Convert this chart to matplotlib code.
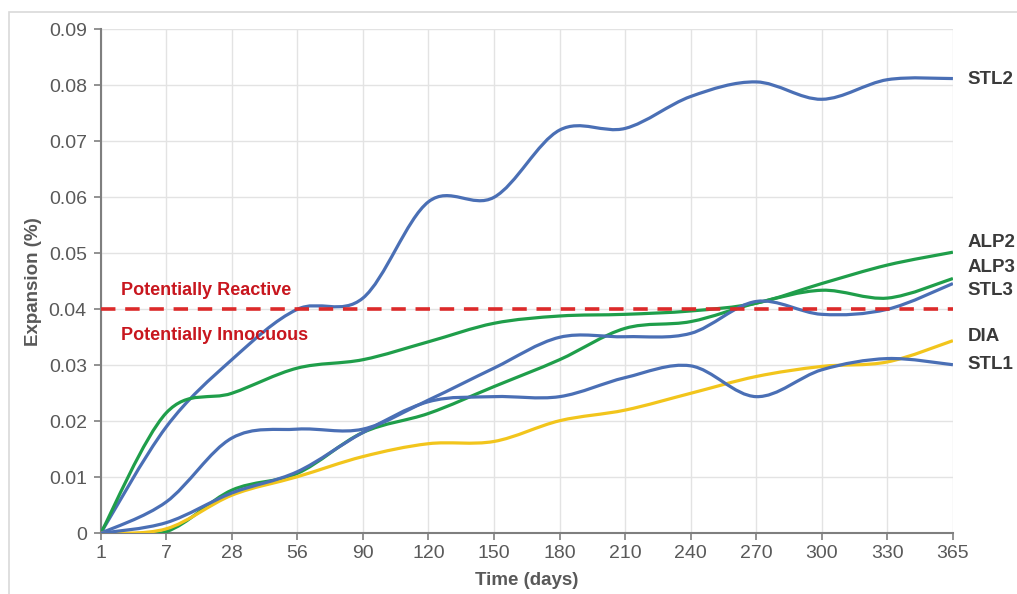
import matplotlib.pyplot as plt
from matplotlib.path import Path
from matplotlib.patches import PathPatch, Rectangle

plt.rcParams['font.family'] = ['Liberation Sans', 'DejaVu Sans']

# Data
days = ['1', '7', '28', '56', '90', '120', '150', '180', '210', '240', '270', '300', '330', '365']

stl2 = [0, 0.019, 0.031, 0.040, 0.042, 0.0592, 0.0600, 0.0720, 0.0723, 0.0780, 0.0806, 0.0775, 0.0810, 0.0812]
alp2 = [0, 0.0215, 0.025, 0.0295, 0.031, 0.0342, 0.0375, 0.0388, 0.0391, 0.0397, 0.0411, 0.0446, 0.0479, 0.0502]
alp3 = [0, 0.0003, 0.0077, 0.0107, 0.018, 0.0214, 0.0262, 0.031, 0.0366, 0.0378, 0.0411, 0.0434, 0.0420, 0.0455]
stl3 = [0, 0.0056, 0.017, 0.0186, 0.0186, 0.0238, 0.0295, 0.0350, 0.0351, 0.0357, 0.0414, 0.0391, 0.0400, 0.0446]
dia = [0, 0.0008, 0.0068, 0.0101, 0.0137, 0.0160, 0.0164, 0.0201, 0.0220, 0.0250, 0.0280, 0.0298, 0.0306, 0.0344]
stl1 = [0, 0.0019, 0.0072, 0.0110, 0.0180, 0.0235, 0.0244, 0.0244, 0.0278, 0.0299, 0.0244, 0.0292, 0.0312, 0.0301]

series = [
    ('STL2', stl2, '#4a6fb5'),
    ('ALP2', alp2, '#1f9e4a'),
    ('ALP3', alp3, '#1f9e4a'),
    ('STL3', stl3, '#4a6fb5'),
    ('DIA', dia, '#f2c51c'),
    ('STL1', stl1, '#4a6fb5'),
]

# where the end labels sit (y in data units)
label_y = {'STL2': 0.0810, 'ALP2': 0.0519, 'ALP3': 0.0474,
           'STL3': 0.0434, 'DIA': 0.0351, 'STL1': 0.0301}

limit = 0.04


def smooth_path(xs, ys):
    # Excel-like smoothed line: Catmull-Rom segments drawn as cubic Beziers
    pts = list(zip(xs, ys))
    n = len(pts)
    verts = [pts[0]]
    codes = [Path.MOVETO]
    for i in range(n - 1):
        p0 = pts[i - 1] if i > 0 else pts[i]
        p1 = pts[i]
        p2 = pts[i + 1]
        p3 = pts[i + 2] if i + 2 < n else pts[i + 1]
        c1 = (p1[0] + (p2[0] - p0[0]) / 6, p1[1] + (p2[1] - p0[1]) / 6)
        c2 = (p2[0] - (p3[0] - p1[0]) / 6, p2[1] - (p3[1] - p1[1]) / 6)
        verts += [c1, c2, p2]
        codes += [Path.CURVE4] * 3
    return Path(verts, codes)


fig = plt.figure(figsize=(10.17, 5.94), dpi=100)
ax = fig.add_axes([0.099, 0.1022, 0.838, 0.8485])

# outer frame
fig.patches.append(Rectangle((9 / 1017, -0.1), 1.2, 1 - 12 / 594 + 0.1,
                             transform=fig.transFigure, fill=False,
                             edgecolor='#d9d9d9', linewidth=1.2))

x = list(range(len(days)))

for name, vals, color in series:
    ax.add_patch(PathPatch(smooth_path(x, vals), fill=False,
                           edgecolor=color, linewidth=2.3, zorder=3))
    ax.annotate(name, xy=(len(days) - 1, label_y[name]), xytext=(15, 0),
                textcoords='offset pixels', va='center', ha='left',
                fontsize=13.5, fontweight='bold', color='#3a3a3a',
                annotation_clip=False)

ax.axhline(limit, color='#dc2a2a', linestyle=(0, (4, 2.7)), linewidth=2.6, zorder=4)
ax.text(0.31, 0.0434, 'Potentially Reactive', color='#c8161e',
        fontsize=13, fontweight='bold', va='center')
ax.text(0.31, 0.0354, 'Potentially Innocuous', color='#c8161e',
        fontsize=13, fontweight='bold', va='center')

ax.set_xlim(0, len(days) - 1)
ax.set_ylim(0, 0.09)
ax.set_xticks(x)
ax.set_xticklabels(days)
ax.set_yticks([i / 100 for i in range(10)])
ax.set_yticklabels(['0'] + ['0.0%d' % i for i in range(1, 10)])

ax.grid(True, color='#e3e3e3', linewidth=1)
ax.set_axisbelow(True)
for side in ['top', 'right']:
    ax.spines[side].set_visible(False)
for side in ['left', 'bottom']:
    ax.spines[side].set_color('#7f7f7f')
    ax.spines[side].set_linewidth(1.5)
ax.tick_params(colors='#7f7f7f', labelcolor='#595959', labelsize=14,
               length=5, width=1.2)
ax.tick_params(axis='y', pad=5)

ax.set_xlabel('Time (days)', fontsize=13.5, fontweight='bold', color='#595959', labelpad=7)
ax.set_ylabel('Expansion (%)', fontsize=13.5, fontweight='bold', color='#595959', labelpad=5)

fig.savefig('out.png', dpi=100)
